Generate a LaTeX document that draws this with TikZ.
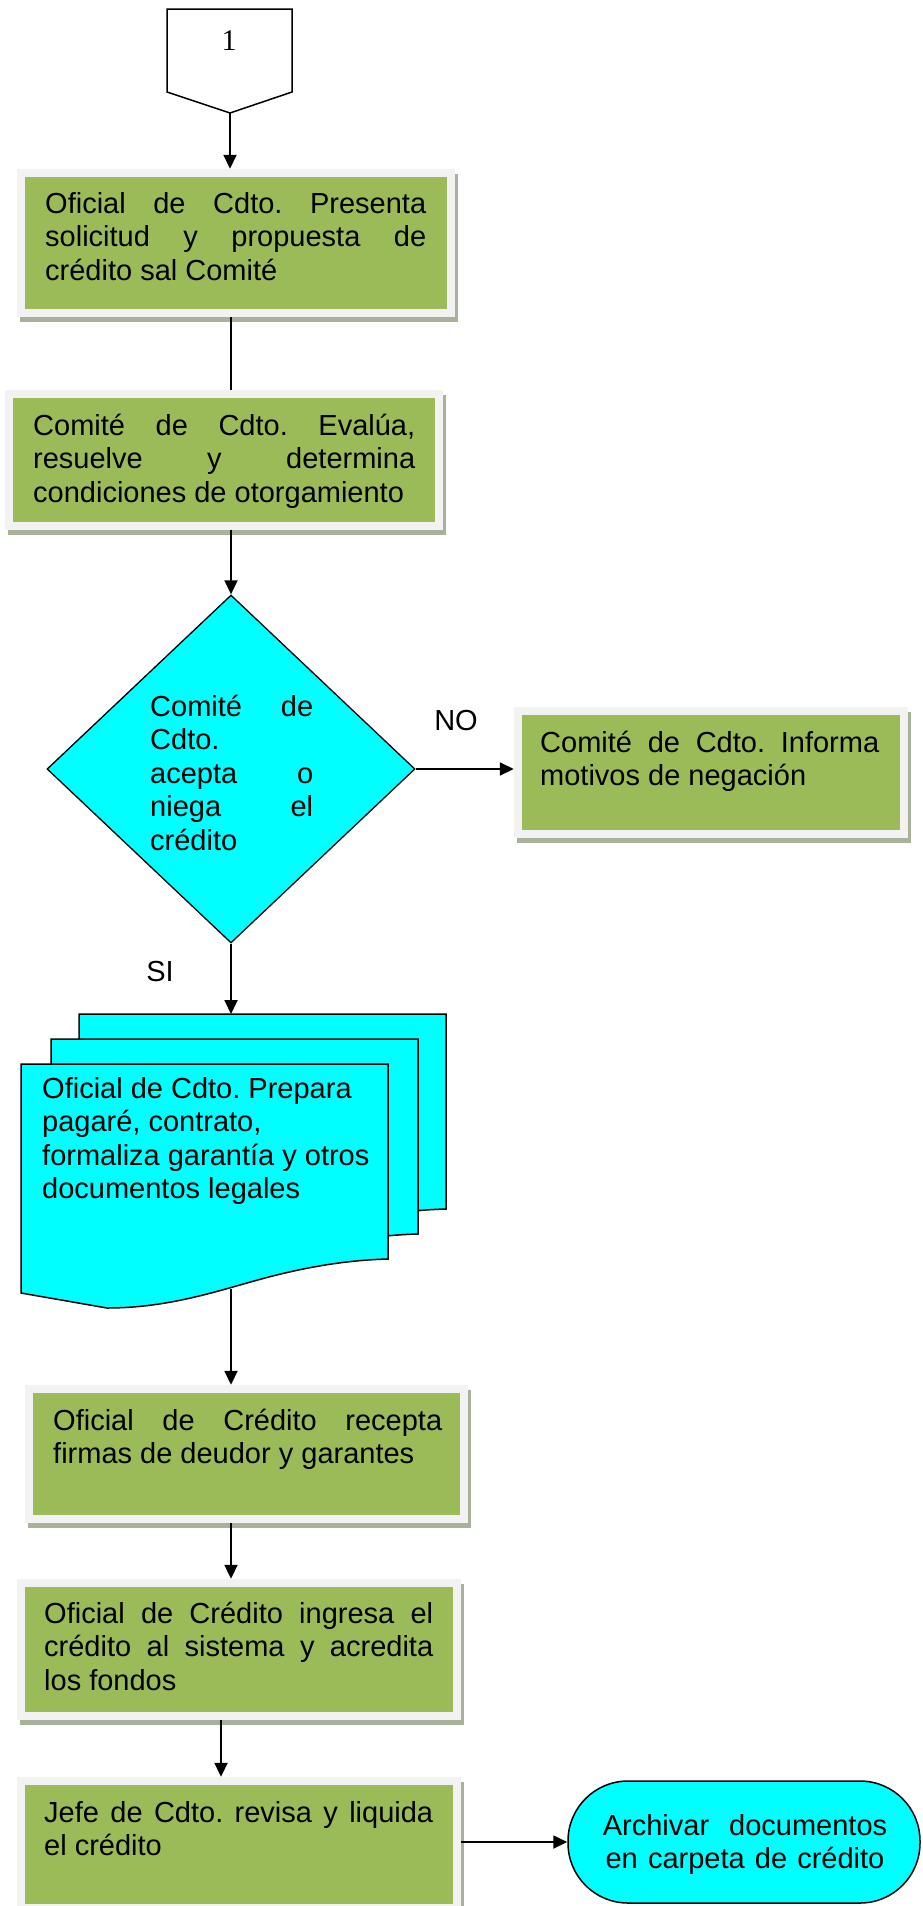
\documentclass[tikz,border=0pt]{standalone}
\usepackage{fontspec}
\setmainfont{Liberation Sans}
\newfontfamily\numfont{Liberation Serif}
\usetikzlibrary{arrows.meta,fit,shadows,shapes.geometric}

\definecolor{boxgreen}{HTML}{9BBB59}
\definecolor{framegray}{HTML}{F2F2F2}
\definecolor{shadowgray}{HTML}{A8B199}
\definecolor{flowcyan}{HTML}{00FFFF}

% natural interword spaces (font's own glue, stretchable)
\newcommand{\natsp}{\spaceskip=0pt\xspaceskip=0pt}
% one justified line spanning the whole text width of the node
\newcommand{\jl}[1]{{\natsp\makebox[\hsize][s]{#1}}}
\newcommand{\fs}{\fontsize{29}{33.5}\selectfont\frenchspacing}

% document outline (front sheet); back sheets reuse it shifted
\newcommand{\docpath}{(21,1064) -- (388,1064) -- (388,1259)
  .. controls (350,1260) and (310,1266) .. (265,1278)
  .. controls (220,1290) and (170,1308) .. (107,1308)
  -- (21,1293) -- cycle}

\begin{document}
\begin{tikzpicture}[x=1pt,y=-1pt,
  gframe/.style={fill=framegray, inner sep=0pt,
    drop shadow={shadow xshift=3pt, shadow yshift=-5pt, fill=shadowgray, opacity=1},
    path picture={\fill[boxgreen]
      ([shift={(8pt,-8pt)}]path picture bounding box.north west) rectangle
      ([shift={(-8pt,8pt)}]path picture bounding box.south east);}},
  txt/.style={anchor=base west, inner sep=0pt, align=justify, font=\fs},
  lbl/.style={anchor=base, inner sep=0pt, font=\fs},
  arr/.style={line width=1.8pt, -{Triangle[length=14pt,width=13pt]}},
  plain/.style={line width=1.8pt},
  docsheet/.style={fill=flowcyan, draw=black, line width=1.5pt}]

\useasboundingbox (0,0) rectangle (922,1906);

% off-page connector "1"
\draw[line width=1.5pt, fill=white] (167,9) -- (292,9) -- (292,92) -- (230,113) -- (167,92) -- cycle;
\node[anchor=base, inner sep=0pt, font=\numfont\fontsize{30}{34}\selectfont] (c1) at (229,50) {1};
\coordinate (c1tip) at (230,113);

% process boxes
\node[gframe, fit={(17,169) (455,317)}] (b1) {};
\node[txt, text width=381pt] (t1) at (45,213)
  {\natsp\jl{Oficial de Cdto. Presenta}\\ \jl{solicitud y propuesta de}\\ crédito sal Comité};

\node[gframe, fit={(5,390) (443,530)}] (b2) {};
\node[txt, text width=382pt] (t2) at (33,435)
  {\natsp\jl{Comité de Cdto. Evalúa,}\\ \jl{resuelve y determina}\\ condiciones de otorgamiento};

% decision
\node[diamond, shape aspect=1, draw=black, line width=1.3pt, fill=flowcyan,
      minimum width=368pt, minimum height=348pt, inner sep=0pt] (dia) at (231,769) {};
\node[txt, text width=163pt] (tdia) at (150,716)
  {\natsp\jl{Comité de}\\ Cdto.\\ \jl{acepta o}\\ \jl{niega el}\\ crédito};

\node[gframe, fit={(514,707) (908,838)}] (bno) {};
\node[txt, text width=339pt] (tno) at (540,752)
  {\natsp\jl{Comité de Cdto. Informa}\\ motivos de negación};

\node[lbl] (no) at (456,730) {NO};
\node[lbl] (si) at (160,981) {SI};

% multi-document stack
\filldraw[docsheet, xshift=58pt, yshift=50pt] \docpath;
\filldraw[docsheet, xshift=30pt, yshift=25pt] \docpath;
\filldraw[docsheet] \docpath;
\coordinate (stacktop) at (231,1014);
\coordinate (docbot) at (231,1289);
\node[txt, text width=345pt] (tdoc) at (42,1098)
  {\natsp Oficial de Cdto. Prepara\\ pagaré, contrato,\\ formaliza garantía y otros\\ documentos legales};

\node[gframe, fit={(25,1385) (468,1523)}] (b5) {};
\node[txt, text width=389pt] (t5) at (53,1430)
  {\natsp\jl{Oficial de Crédito recepta}\\ firmas de deudor y garantes};

\node[gframe, fit={(17,1579) (461,1720)}] (b6) {};
\node[txt, text width=389pt] (t6) at (44,1623)
  {\natsp\jl{Oficial de Crédito ingresa el}\\ \jl{crédito al sistema y acredita}\\ los fondos};

\node[gframe, fit={(17,1777) (461,1912)}] (b7) {};
\node[txt, text width=389pt] (t7) at (44,1822)
  {\natsp\jl{Jefe de Cdto. revisa y liquida}\\ el crédito};

% terminator
\node[draw=black, line width=1.5pt, fill=flowcyan, rounded corners=60pt, inner sep=0pt,
      fit={(568,1781) (920,1903)}] (term) {};
\node[lbl, text width=340pt, align=center] (tterm) at (745,1835)
  {\natsp Archivar\ \ documentos\\ en carpeta de crédito};

% connectors
\coordinate (spine2) at (221,0);
\draw[arr] (c1tip) -- (c1tip |- b1.north);
\draw[plain] (b1.south -| dia.north) -- (b2.north -| dia.north);
\draw[arr] (b2.south -| dia.north) -- (dia.north);
\draw[arr] (dia.east) -- (dia.east -| bno.west);
\draw[arr] (dia.south) -- (stacktop);
\draw[arr] (docbot) -- (b5.north -| docbot);
\draw[arr] (b5.south -| dia.south) -- (b6.north -| dia.south);
\draw[arr] (b6.south -| spine2) -- (b7.north -| spine2);
\draw[arr] (term.west -| b7.east) -- (term.west);
\end{tikzpicture}
\end{document}
